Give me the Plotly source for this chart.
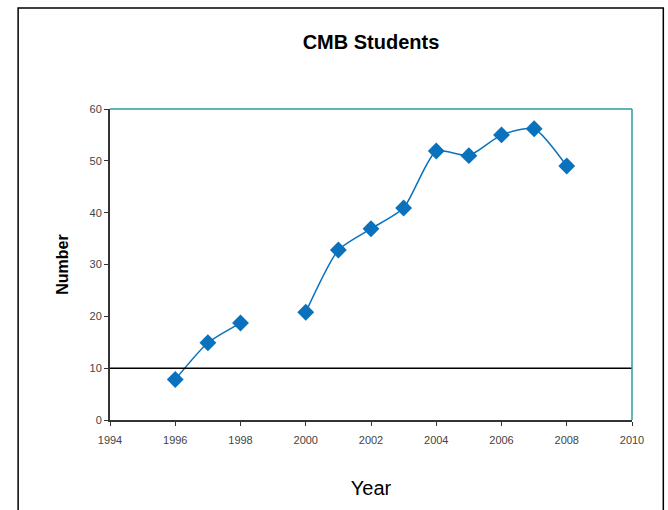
import plotly.graph_objects as go

years = [1996, 1997, 1998, 1999, 2000, 2001, 2002, 2003, 2004, 2005, 2006, 2007, 2008]
students = [7.8, 14.9, 18.7, None, 20.8, 32.8, 36.9, 40.9, 51.9, 51.0, 55.0, 56.2, 49.0]
x_ticks = [1994, 1996, 1998, 2000, 2002, 2004, 2006, 2008, 2010]
y_ticks = [0, 10, 20, 30, 40, 50, 60]
ref_line = 10

blue = "#0a72bd"

fig = go.Figure()
fig.add_trace(go.Scatter(
    x=years, y=students, mode="lines+markers",
    line=dict(color=blue, width=1.5, shape="spline", smoothing=0.6),
    marker=dict(symbol="diamond", size=13, color=blue),
    connectgaps=False, showlegend=False,
))

fig.add_shape(type="line", xref="paper", yref="y", x0=0, x1=1, y0=ref_line, y1=ref_line,
              line=dict(color="black", width=1.5))
# plot frame: teal top/right
fig.add_shape(type="line", xref="paper", yref="paper", x0=0, x1=1, y0=1, y1=1,
              line=dict(color="#2a9d9a", width=1.5))
fig.add_shape(type="line", xref="paper", yref="paper", x0=1, x1=1, y0=0, y1=1,
              line=dict(color="#2a9d9a", width=1.5))
# outer chart border
fig.add_shape(type="rect", xref="paper", yref="paper", x0=-0.176, x1=1.06, y0=-0.31, y1=1.325,
              line=dict(color="black", width=1.5))

fig.update_layout(
    width=668, height=510,
    margin=dict(l=110, r=36, t=109, b=90),
    paper_bgcolor="white", plot_bgcolor="white",
    font=dict(family="Liberation Sans, Arial", color="black"),
    title=dict(text="<b>CMB Students</b>", x=0.5, xanchor="center", xref="paper",
               y=0.918, yanchor="middle", font=dict(size=20)),
)
fig.update_xaxes(
    range=[1994, 2010], tickvals=x_ticks, showgrid=False, zeroline=False,
    showline=True, linecolor="#333", linewidth=2, ticks="outside", ticklen=4,
    tickcolor="#333", tickfont=dict(size=11, color="#444"), ticklabelstandoff=5,
    title=dict(text="Year", font=dict(size=20), standoff=36),
)
fig.update_yaxes(
    range=[0, 60], tickvals=y_ticks, showgrid=False, zeroline=False,
    showline=True, linecolor="#333", linewidth=2, ticks="outside", ticklen=4,
    tickcolor="#333", tickfont=dict(size=11, color="#444"),
    title=dict(text="<b>Number</b>", font=dict(size=16), standoff=17),
)

fig.write_html("out.html", config={"displayModeBar": False},
               post_script="document.body.style.margin='0';document.body.style.overflow='hidden';")
